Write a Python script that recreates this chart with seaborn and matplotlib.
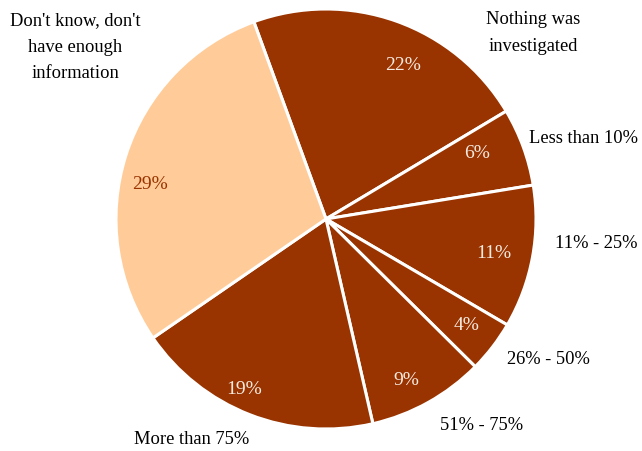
import matplotlib
matplotlib.use("Agg")
import matplotlib.pyplot as plt
import seaborn as sns

# data (clockwise from the top)
categories = ["Nothing was\ninvestigated", "Less than 10%", "11% - 25%", "26% - 50%",
              "51% - 75%", "More than 75%", "Don't know, don't\nhave enough\ninformation"]
shares = [22, 6, 11, 4, 9, 19, 29]

dark = "#993300"
light = "#FFCC99"
slice_colors = [dark, dark, dark, dark, dark, dark, light]

# where each category label / percent label sits, in pie-radius units
label_pos = [(0.986, 0.886), (1.224, 0.381), (1.286, -0.119), (1.057, -0.667),
             (0.743, -0.981), (-0.638, -1.052), (-1.195, 0.819)]
pct_pos = [(0.367, 0.729), (0.719, 0.314), (0.800, -0.162), (0.667, -0.505),
           (0.381, -0.767), (-0.390, -0.810), (-0.838, 0.162)]

sns.set_theme(style="white")
plt.rcParams["font.family"] = ["Liberation Serif", "DejaVu Serif"]

fig = plt.figure(figsize=(6.42, 4.51), dpi=100)
ax = fig.add_axes([0, 0, 1, 1])

wedges, texts, autotexts = ax.pie(
    shares, colors=slice_colors, startangle=110.1, counterclock=False,
    autopct="%d%%", pctdistance=0.83, radius=1.0,
    wedgeprops=dict(edgecolor="white", linewidth=2.2),
    textprops=dict(fontsize=14))

for t, c, p in zip(autotexts, slice_colors, pct_pos):
    t.set_color("#993300" if c == light else "#F6EBE1")
    t.set_position(p)

for name, (x, y) in zip(categories, label_pos):
    ax.text(x, y, name, ha="center", va="center", fontsize=13.3,
            color="black", linespacing=1.75)

# pie centre at (326, 219) px, radius 210 px
ax.set_xlim(-326 / 210, 316 / 210)
ax.set_ylim(-232 / 210, 219 / 210)
ax.set_aspect("auto")
ax.axis("off")

fig.savefig("out.png", dpi=100, facecolor="white")
